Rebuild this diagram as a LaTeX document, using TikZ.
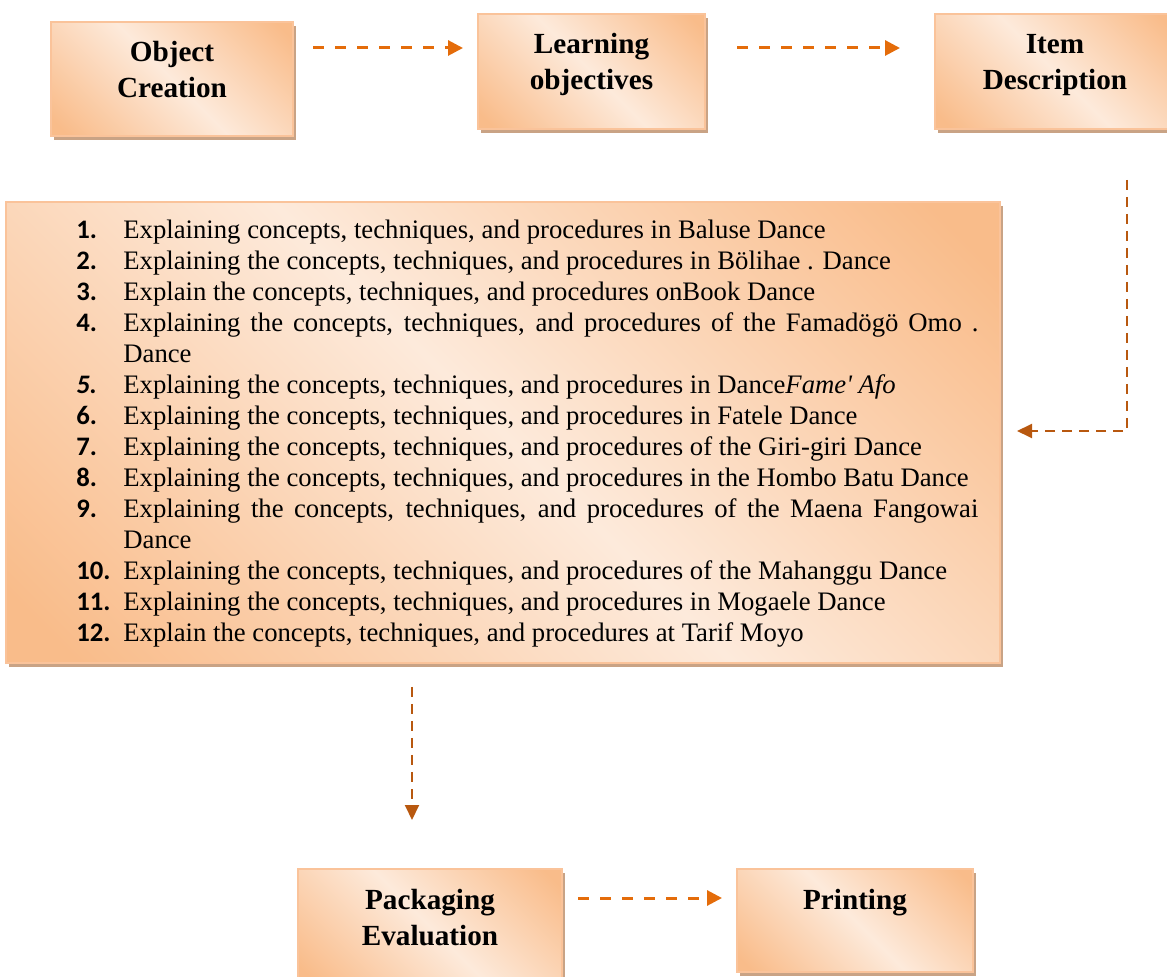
\documentclass[tikz,border=0pt]{standalone}
\usepackage{fontspec}
\setmainfont{Liberation Serif}
\newfontfamily\numfont{Carlito}
\usetikzlibrary{arrows.meta,shadows}
\definecolor{peachdark}{HTML}{F9BC8A}
\definecolor{peachlight}{HTML}{FDEADB}
\definecolor{peachline}{HTML}{FAC39A}
\definecolor{shadowtan}{HTML}{C9A385}
\definecolor{arroworange}{HTML}{E46C0A}
\definecolor{arrowbrown}{HTML}{B8580F}
\pgfdeclarehorizontalshading{peachfill}{100bp}{color(0bp)=(peachdark); color(18bp)=(peachdark); color(50bp)=(peachlight); color(82bp)=(peachdark); color(100bp)=(peachdark)}
\tikzset{
	stepbox/.style={draw=peachline, line width=1pt, shading=peachfill, shading angle=45,
		drop shadow={shadow xshift=1.5pt, shadow yshift=-2pt, fill=shadowtan, opacity=1},
		inner sep=0pt, font=\bfseries\fontsize{14.6}{18}\selectfont},
	flowarrow/.style={draw=arroworange, line width=1.5pt, dash pattern=on 5.5pt off 5.5pt, -{Triangle[length=7.5pt,width=7.5pt]}},
	elbowarrow/.style={draw=arrowbrown, line width=1pt, dash pattern=on 5pt off 3.5pt, -{Triangle[length=7.5pt,width=7pt]}}
}
\newcommand{\boxtext}[2]{\parbox[t][#1][t]{110pt}{\centering\strut #2}}
\newcommand{\dancestep}[2]{\par\noindent\hangindent=23.5pt\hangafter=1\makebox[23.5pt][l]{\numfont\bfseries #1}#2}

\begin{document}
\begin{tikzpicture}[x=0.5pt, y=-0.5pt]
		%%%%% START %%%%%
		\useasboundingbox (0,0) rectangle (1167,977);
		\coordinate (toprow) at (0,48);
		\coordinate (botrow) at (0,898);
		\coordinate (bend) at (1127,431);
		\coordinate (drop) at (412,0);
		
		\node[stepbox, minimum width=121pt, minimum height=57pt] (objc) at (172,79) {\boxtext{42.2pt}{Object\\Creation}};
		\node[stepbox, minimum width=113.5pt, minimum height=57.5pt] (learn) at (591.5,71.5) {\boxtext{42.7pt}{Learning\\objectives}};
		\node[stepbox, minimum width=120pt, minimum height=57.5pt] (item) at (1055,71.5) {\boxtext{42.7pt}{Item\\Description}};
		
		\node[stepbox, minimum width=497pt, minimum height=230.5pt] (lbox) at (503,432.5) {};
		\node[anchor=base west, inner sep=0pt, font=\fontsize{13.35}{15.5}\selectfont] (steps) at (76,239) {\parbox[t]{451pt}{%
			\dancestep{1.}{Explaining concepts, techniques, and procedures in Baluse Dance}
			\dancestep{2.}{Explaining the concepts, techniques, and procedures in Bölihae . Dance}
			\dancestep{3.}{Explain the concepts, techniques, and procedures onBook Dance}
			\dancestep{4.}{Explaining the concepts, techniques, and procedures of the Famadögö Omo .\linebreak Dance}
			\dancestep{\itshape 5.}{Explaining the concepts, techniques, and procedures in Dance\textit{Fame\textquotesingle\ Afo}}
			\dancestep{6.}{Explaining the concepts, techniques, and procedures in Fatele Dance}
			\dancestep{7.}{Explaining the concepts, techniques, and procedures of the Giri-giri Dance}
			\dancestep{8.}{Explaining the concepts, techniques, and procedures in the Hombo Batu Dance}
			\dancestep{9.}{Explaining the concepts, techniques, and procedures of the Maena Fangowai\linebreak Dance}
			\dancestep{10.}{Explaining the concepts, techniques, and procedures of the Mahanggu Dance}
			\dancestep{11.}{Explaining the concepts, techniques, and procedures in Mogaele Dance}
			\dancestep{12.}{Explain the concepts, techniques, and procedures at Tarif Moyo}}};
		
		\node[stepbox, minimum width=132pt, minimum height=57.5pt] (pack) at (430,926.5) {\boxtext{42.7pt}{Packaging\\Evaluation}};
		\node[stepbox, minimum width=118pt, minimum height=51.5pt] (print) at (855,920.5) {\boxtext{36.7pt}{Printing}};
		
		\draw[flowarrow, shorten <=9.5pt, shorten >=7pt] (objc.east |- toprow) -- (learn.west |- toprow);
		\draw[flowarrow, shorten <=15.5pt, shorten >=17pt] (learn.east |- toprow) -- (item.west |- toprow);
		\draw[elbowarrow, shorten <=25pt, shorten >=8pt] (item.south -| bend) -- (bend) -- (bend -| lbox.east);
		\draw[elbowarrow, shorten <=11.5pt, shorten >=24pt] (lbox.south -| drop) -- (pack.north -| drop);
		\draw[flowarrow, shorten <=7.5pt, shorten >=7pt] (pack.east |- botrow) -- (print.west |- botrow);
		%%%%% END %%%%%
\end{tikzpicture}
\end{document}
